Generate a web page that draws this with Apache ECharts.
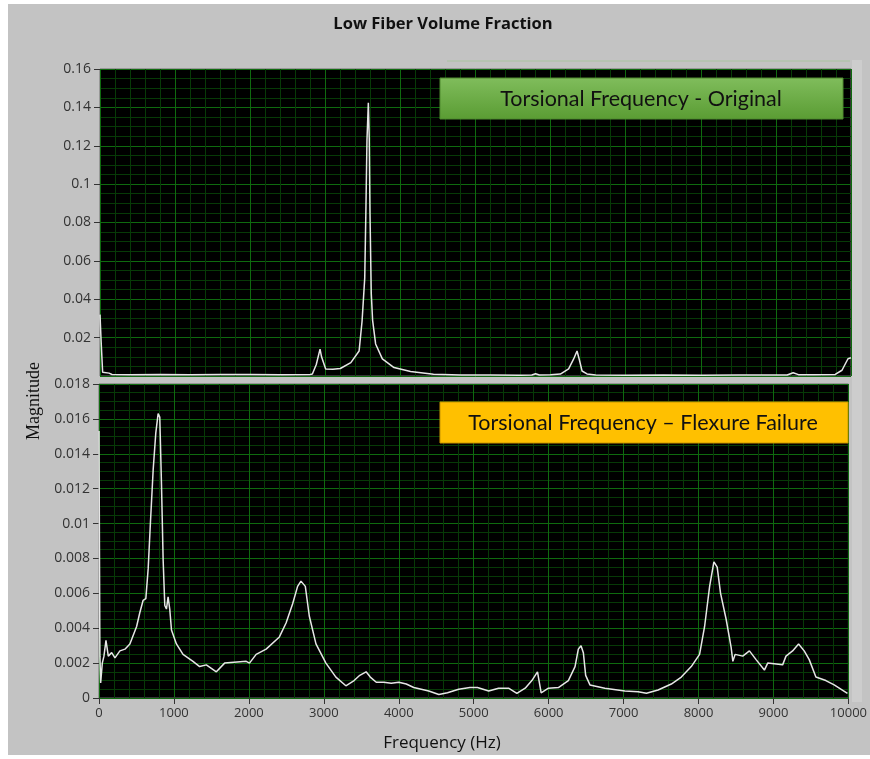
<!DOCTYPE html>
<html>
<head>
<meta charset="utf-8">
<script src="https://cdn.jsdelivr.net/npm/echarts@6/dist/echarts.min.js"></script>
<style>
html,body{margin:0;padding:0;background:#fff;}
#chart{width:870px;height:759px;}
</style>
</head>
<body>
<div id="chart"></div>
<script>
// ---- Data ----
var chartTitle = 'Low Fiber Volume Fraction';
var xAxisName = 'Frequency (Hz)';
var yAxisName = 'Magnitude';
var legendTop = 'Torsional Frequency - Original';
var legendBottom = 'Torsional Frequency \u2013 Flexure Failure';
var xTicks = [0, 1000, 2000, 3000, 4000, 5000, 6000, 7000, 8000, 9000, 10000];
var yTicksTop = [0, 0.02, 0.04, 0.06, 0.08, 0.1, 0.12, 0.14, 0.16];
var yTicksBottom = [0, 0.002, 0.004, 0.006, 0.008, 0.01, 0.012, 0.014, 0.016, 0.018];

// Top panel: original specimen
var freqTop = [0, 10, 15, 25, 35, 60, 120, 160, 400, 800, 1200, 1600, 2000, 2400, 2800, 2828, 2880, 2930, 2950, 3005, 3100, 3200, 3340, 3450, 3490, 3525, 3540, 3555, 3573, 3585, 3595, 3612, 3630, 3670, 3760, 3915, 4135, 4440, 4800, 5200, 5600, 5750, 5800, 5850, 6000, 6130, 6240, 6307, 6352, 6387, 6419, 6485, 6600, 7000, 7500, 8000, 8500, 9150, 9230, 9300, 9500, 9790, 9880, 9960, 10000];
var magTop  = [0.032, 0.031, 0.018, 0.017, 0.002, 0.001, 0.0015, 0.0008, 0.0007, 0.0008, 0.0007, 0.0008, 0.0008, 0.0007, 0.0008, 0.001, 0.006, 0.014, 0.01, 0.0037, 0.0035, 0.0039, 0.007, 0.013, 0.0288, 0.051, 0.085, 0.123, 0.1424, 0.124, 0.085, 0.043, 0.029, 0.0167, 0.0089, 0.0044, 0.0023, 0.0009, 0.0005, 0.0005, 0.0004, 0.0005, 0.0012, 0.0005, 0.0006, 0.001, 0.0037, 0.0089, 0.013, 0.0078, 0.0026, 0.0011, 0.0005, 0.0004, 0.0005, 0.0004, 0.0005, 0.0005, 0.0017, 0.0007, 0.0006, 0.0008, 0.003, 0.009, 0.0095];

// Bottom panel: after flexure failure
var freqBottom = [0, 5, 12, 22, 44, 66, 93, 124, 169, 213, 279, 346, 412, 457, 502, 545, 589, 625, 656, 688, 723, 758, 789, 811, 834, 856, 878, 900, 922, 944, 967, 1033, 1121, 1254, 1343, 1432, 1566, 1676, 1965, 2008, 2097, 2230, 2407, 2496, 2584, 2650, 2695, 2753, 2806, 2895, 3028, 3161, 3294, 3404, 3480, 3564, 3620, 3700, 3800, 3900, 4000, 4100, 4200, 4300, 4400, 4535, 4650, 4800, 4950, 5050, 5200, 5332, 5465, 5576, 5687, 5776, 5851, 5900, 5997, 6130, 6263, 6352, 6396, 6432, 6463, 6494, 6551, 6750, 7017, 7194, 7305, 7460, 7637, 7770, 7903, 8014, 8081, 8148, 8205, 8249, 8294, 8369, 8435, 8458, 8488, 8590, 8679, 8768, 8879, 8923, 9122, 9167, 9255, 9335, 9410, 9477, 9566, 9699, 9810, 9987];
var magBottom  = [0.0153, 0.0096, 0.0024, 0.00086, 0.002, 0.0024, 0.0033, 0.0024, 0.0026, 0.0023, 0.0027, 0.0028, 0.0031, 0.0036, 0.0041, 0.0049, 0.0056, 0.0057, 0.0074, 0.0102, 0.0131, 0.0152, 0.0163, 0.0161, 0.0122, 0.0079, 0.0053, 0.0051, 0.0058, 0.0051, 0.0039, 0.0031, 0.0025, 0.0021, 0.0018, 0.0019, 0.0015, 0.002, 0.0021, 0.002, 0.0025, 0.0028, 0.0035, 0.0043, 0.0054, 0.0064, 0.0067, 0.0064, 0.0047, 0.0031, 0.002, 0.0012, 0.0007, 0.001, 0.0013, 0.0015, 0.0012, 0.0009, 0.0009, 0.00085, 0.0009, 0.0008, 0.0006, 0.0005, 0.0004, 0.0002, 0.0003, 0.0005, 0.0006, 0.0006, 0.0004, 0.00056, 0.00056, 0.00027, 0.00056, 0.001, 0.0015, 0.0003, 0.00056, 0.0006, 0.001, 0.0018, 0.0028, 0.003, 0.0026, 0.0013, 0.00075, 0.00056, 0.0004, 0.00036, 0.00027, 0.00046, 0.0008, 0.0012, 0.0018, 0.0025, 0.0041, 0.0064, 0.0078, 0.0075, 0.006, 0.0045, 0.0029, 0.0021, 0.0025, 0.0024, 0.0027, 0.0022, 0.0016, 0.002, 0.0019, 0.0024, 0.0027, 0.0031, 0.0027, 0.0022, 0.0012, 0.001, 0.00075, 0.00027];

function pairs(xs, ys){ return xs.map(function(x, i){ return [x, ys[i]]; }); }

var MAJOR = '#0f6a0f';
var MINOR = '#073a07';
var LABEL = '#333';
var FONT = 'Open Sans';

function fmt(v){ return String(+v.toFixed(4)); }

function makeX(idx, showLabels){
  return {
    type: 'value', gridIndex: idx, min: xTicks[0], max: xTicks[xTicks.length-1],
    interval: xTicks[1] - xTicks[0],
    axisLine: {show: false},
    axisTick: {show: showLabels, length: 6, lineStyle: {color: LABEL}},
    axisLabel: {show: showLabels, color: LABEL, fontFamily: FONT, fontSize: 13, margin: 9,
                formatter: function(v){ return String(v); }},
    splitLine: {show: true, lineStyle: {color: MAJOR, width: 1}},
    minorTick: {show: false, splitNumber: 5},
    minorSplitLine: {show: true, lineStyle: {color: MINOR, width: 1}}
  };
}
function makeY(idx, ticks, showMin){
  return {
    type: 'value', gridIndex: idx, min: ticks[0], max: ticks[ticks.length-1],
    interval: ticks[1] - ticks[0],
    axisLine: {show: false},
    axisTick: {show: true, length: 6, lineStyle: {color: LABEL}},
    axisLabel: {color: LABEL, fontFamily: FONT, fontSize: 14, margin: 9, formatter: fmt, showMinLabel: showMin},
    splitLine: {show: true, lineStyle: {color: MAJOR, width: 1}},
    minorTick: {show: false, splitNumber: 4},
    minorSplitLine: {show: true, lineStyle: {color: MINOR, width: 1}}
  };
}

var chart = echarts.init(document.getElementById('chart'), null, {renderer: 'canvas'});
chart.setOption({
  backgroundColor: '#c3c3c3',
  animation: false,
  title: {
    text: chartTitle, left: 438, top: 11, textAlign: 'center',
    textStyle: {fontFamily: FONT, fontSize: 16.5, fontWeight: 'bold', color: '#111'}
  },
  grid: [
    {left: 100, top: 69, width: 751, height: 307, show: true, backgroundColor: '#000', borderColor: '#6a6a6a', borderWidth: 1},
    {left: 99, top: 384, width: 752, height: 314, show: true, backgroundColor: '#000', borderColor: '#6a6a6a', borderWidth: 1}
  ],
  xAxis: [makeX(0, false), makeX(1, true)],
  yAxis: [makeY(0, yTicksTop, false), makeY(1, yTicksBottom, true)],
  series: [
    {type: 'line', xAxisIndex: 0, yAxisIndex: 0, data: pairs(freqTop, magTop), showSymbol: false, symbol: 'none',
     lineStyle: {color: '#e6e6e6', width: 1.5}, z: 5},
    {type: 'line', xAxisIndex: 1, yAxisIndex: 1, data: pairs(freqBottom, magBottom), showSymbol: false, symbol: 'none',
     lineStyle: {color: '#e6e6e6', width: 1.5}, z: 5}
  ],
  graphic: [
    {type: 'rect', shape: {x: 0, y: 0, width: 8, height: 759}, style: {fill: '#fff'}, silent: true},
    {type: 'rect', shape: {x: 0, y: 0, width: 870, height: 4}, style: {fill: '#fff'}, silent: true},
    {type: 'rect', shape: {x: 0, y: 755, width: 870, height: 4}, style: {fill: '#fff'}, silent: true},
    {type: 'rect', shape: {x: 852, y: 60, width: 10, height: 642}, style: {fill: '#cdcdcd'}, silent: true},
    {type: 'line', shape: {x1: 447, y1: 61, x2: 850, y2: 61}, style: {stroke: '#a9c4a0', lineWidth: 1}, silent: true},
    {type: 'rect', z: 100, shape: {x: 440, y: 78, width: 403, height: 41},
     style: {fill: new echarts.graphic.LinearGradient(0, 0, 0, 1, [{offset: 0, color: '#80bd5c'}, {offset: 1, color: '#5a9c33'}]),
             stroke: '#4f8a2e', lineWidth: 1}},
    {type: 'text', z: 101, x: 641, y: 99,
     style: {text: legendTop, fill: '#111', font: '21.5px Lato', textAlign: 'center', textVerticalAlign: 'middle'}},
    {type: 'rect', z: 100, shape: {x: 440, y: 402, width: 408, height: 41},
     style: {fill: '#ffc000', stroke: '#c89400', lineWidth: 1}},
    {type: 'text', z: 101, x: 643, y: 423,
     style: {text: legendBottom, fill: '#111', font: '21.5px Lato', textAlign: 'center', textVerticalAlign: 'middle'}},
    {type: 'text', x: 34, y: 401, rotation: Math.PI / 2,
     style: {text: yAxisName, fill: '#111', font: '18px "Liberation Serif"', textAlign: 'center', textVerticalAlign: 'middle'}},
    {type: 'text', x: 442, y: 743,
     style: {text: xAxisName, fill: '#111', font: '17px "Open Sans"', textAlign: 'center', textVerticalAlign: 'middle'}}
  ]
});
</script>
</body>
</html>
